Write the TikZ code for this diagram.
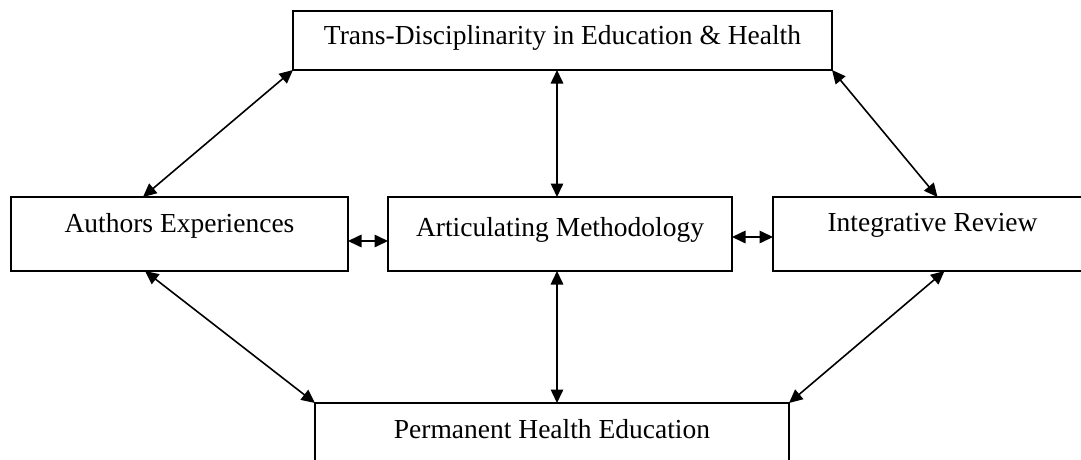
\documentclass[tikz,border=0pt]{standalone}
\usepackage{fontspec}
\setmainfont{Liberation Serif}
\usetikzlibrary{arrows.meta}
\tikzset{
  box/.style={draw, line width=1.7pt, inner sep=0pt, outer sep=0pt, rectangle},
  txt/.style={anchor=base, inner sep=0pt, font=\fontsize{27.5}{33}\selectfont},
  arr/.style={line width=1.6pt, {Triangle[length=13.5pt,width=12.5pt]}-{Triangle[length=13.5pt,width=12.5pt]}},
}
\begin{document}
\begin{tikzpicture}[x=1pt,y=-1pt]
\useasboundingbox (0,0) rectangle (1081,460);
\clip (0,0) rectangle (1081,460);
\node[box, minimum width=539pt, minimum height=59pt] (top) at (562.5,40.5) {};
\node[box, minimum width=337pt, minimum height=74pt] (ae) at (179.5,234) {};
\node[box, minimum width=344pt, minimum height=74pt] (am) at (560,234) {};
\node[box, minimum width=319pt, minimum height=74pt] (ir) at (932.5,234) {};
\node[box, minimum width=474pt, minimum height=77pt] (phe) at (552,441.5) {};
\node[txt] (ttop) at (562.5,45) {Trans-Disciplinarity in Education \& Health};
\node[txt] (tae) at (179.5,232) {Authors Experiences};
\node[txt] (tam) at (560,236) {Articulating Methodology};
\node[txt] (tir) at (932.5,231) {Integrative Review};
\node[txt] (tphe) at (552,438) {Permanent Health Education};
% vertical
\draw[arr] ([xshift=-3pt]am.north) -- ([xshift=-3pt]am.north |- top.south);
\draw[arr] ([xshift=-3pt]am.south) -- ([xshift=-3pt]am.south |- phe.north);
% horizontal
\draw[arr] ([yshift=-7pt]ae.east) -- ([yshift=-7pt]am.west);
\draw[arr] ([yshift=-3pt]am.east) -- ([yshift=-3pt]ir.west);
% diagonals
\draw[arr] (top.south west) -- ([xshift=-36.5pt]ae.north);
\draw[arr] (top.south east) -- ([xshift=5pt]ir.north);
\draw[arr] ([xshift=-34.5pt]ae.south) -- (phe.north west);
\draw[arr] ([xshift=12pt]ir.south) -- (phe.north east);
\end{tikzpicture}
\end{document}
